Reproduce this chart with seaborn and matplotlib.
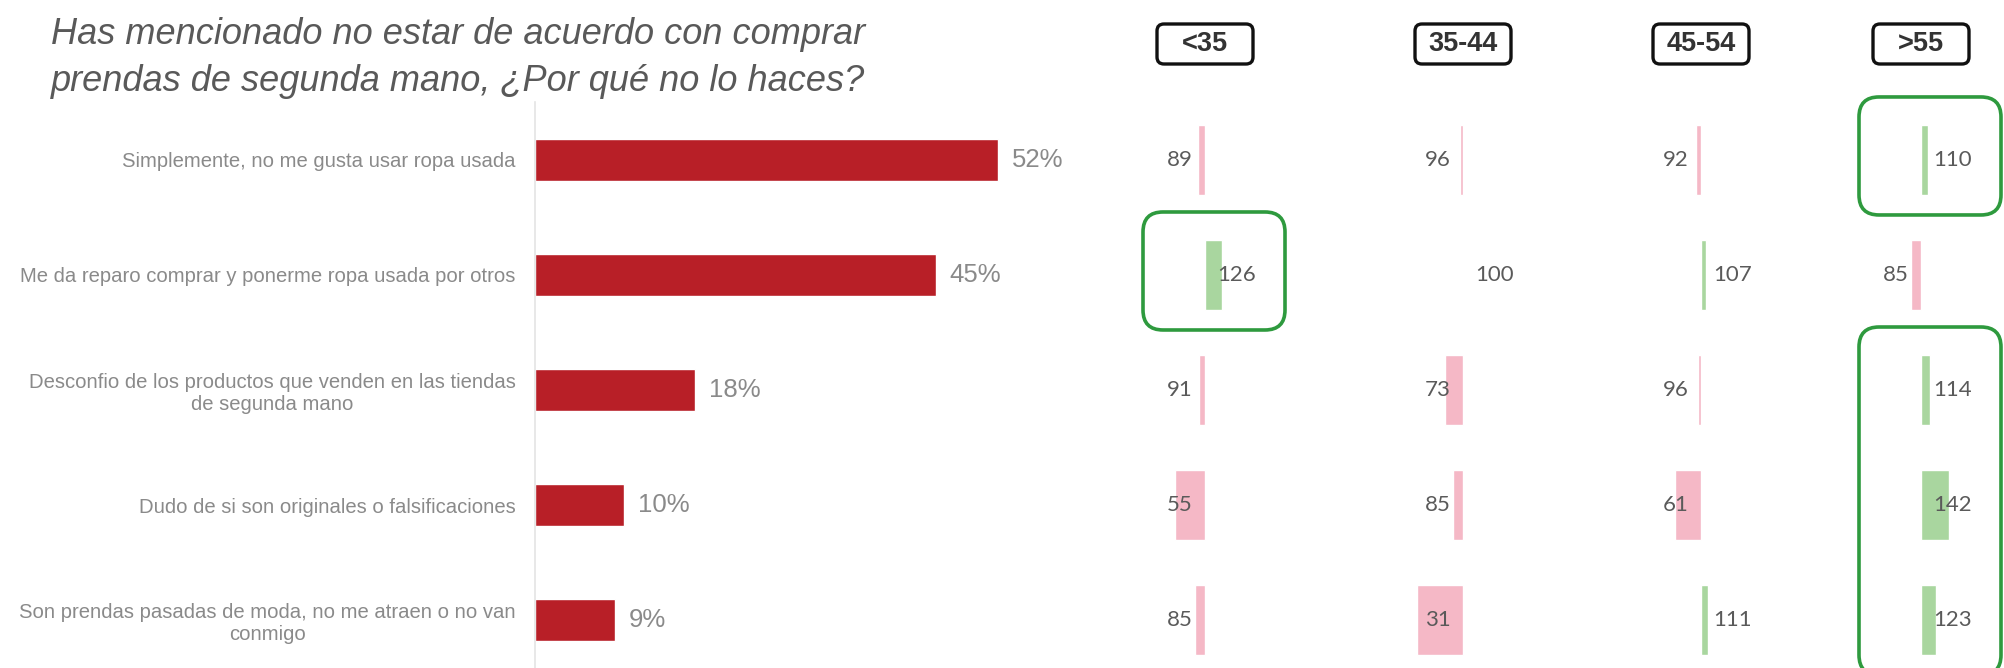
import matplotlib
matplotlib.use('Agg')
import matplotlib.pyplot as plt
from matplotlib.patches import FancyBboxPatch
import pandas as pd
import seaborn as sns

# datos de la encuesta
motivos = [
    'Simplemente, no me gusta usar ropa usada',
    'Me da reparo comprar y ponerme ropa usada por otros',
    'Desconfio de los productos que venden en las tiendas\nde segunda mano',
    'Dudo de si son originales o falsificaciones',
    'Son prendas pasadas de moda, no me atraen o no van\nconmigo',
]
porcentajes = [52, 45, 18, 10, 9]
edades = ['<35', '35-44', '45-54', '>55']
indice_menos35 = [89, 126, 91, 55, 85]
indice_35_44 = [96, 100, 73, 85, 31]
indice_45_54 = [92, 107, 96, 61, 111]
indice_mas55 = [110, 85, 114, 142, 123]
# (edad, primera fila, ultima fila) marcadas en verde
destacados = [('<35', 1, 1), ('>55', 0, 0), ('>55', 2, 4)]

indices = {'<35': indice_menos35, '35-44': indice_35_44,
           '45-54': indice_45_54, '>55': indice_mas55}

# colores
ROJO = '#B81F27'
ROSA = '#F5B8C6'
VERDE = '#A9D69F'
VERDE_MARCO = '#2E9A3E'
GRIS = '#8a8a8a'

sns.set_theme(style='white')
plt.rcParams['font.family'] = ['Liberation Sans', 'DejaVu Sans']

W, H, DPI = 2004, 668, 100
fig = plt.figure(figsize=(W / DPI, H / DPI), dpi=DPI)

# zona de graficos: desde y=102 px hasta abajo
alto = (H - 102) / H
ylim = (4.417, -0.504)

# ---- barras principales ----
df = pd.DataFrame({'motivo': motivos, 'pct': porcentajes})
ax = fig.add_axes([535 / W, 0, 565 / W, alto])
sns.barplot(data=df, x='pct', y='motivo', order=motivos, color=ROJO,
            width=0.37, saturation=1, ax=ax)
ax.set_xlim(0, 565 / 8.9)
ax.set_ylim(*ylim)
ax.set_xlabel('')
ax.set_ylabel('')
ax.set_xticks([])
ax.set_yticks(range(len(motivos)))
ax.set_yticklabels(motivos, fontsize=14.6, color=GRIS, multialignment='center')
ax.tick_params(axis='y', length=0, pad=14)
for s in ['top', 'right', 'bottom']:
    ax.spines[s].set_visible(False)
ax.spines['left'].set_color('#e4e4e4')
ax.spines['left'].set_linewidth(1.2)
for i, p in enumerate(porcentajes):
    ax.annotate(f'{p}%', xy=(p, i), xytext=(10, 0), textcoords='offset points',
                ha='left', va='center', fontsize=18.5, color=GRIS)

# ---- indices por edad ----
centros = [1205, 1463, 1701, 1921]
semiancho = 80
escala = 0.67  # px por punto de indice
ejes_edad = {}
for edad, c in zip(edades, centros):
    vals = indices[edad]
    d = pd.DataFrame({'motivo': motivos,
                      'dif': [v - 100 for v in vals],
                      'signo': ['mas' if v >= 100 else 'menos' for v in vals]})
    a = fig.add_axes([(c - semiancho) / W, 0, 2 * semiancho / W, alto])
    sns.barplot(data=d, x='dif', y='motivo', order=motivos, hue='signo',
                palette={'mas': VERDE, 'menos': ROSA}, dodge=False,
                width=0.61, saturation=1, legend=False, ax=a)
    a.set_xlim(-semiancho / escala, semiancho / escala)
    a.set_ylim(*ylim)
    a.axis('off')
    for i, v in enumerate(vals):
        lado = 1 if v >= 100 else -1
        a.annotate(str(v), xy=(0, i), xytext=(lado * 9, 0),
                   textcoords='offset points', ha='left' if lado > 0 else 'right',
                   va='center', fontsize=16, color='#5a5a5a',
                   family=['Lato', 'DejaVu Sans'], annotation_clip=False)
    ejes_edad[edad] = (a, c)

    # cabecera con marco redondeado
    yc = (H - 44) / DPI
    fig.add_artist(FancyBboxPatch((c / DPI - 0.48, yc - 0.2), 0.96, 0.40,
                                  boxstyle='round,pad=0,rounding_size=0.07',
                                  transform=fig.dpi_scale_trans, fill=False,
                                  ec='#111111', lw=2.4))
    fig.text(c / DPI, yc, edad, transform=fig.dpi_scale_trans, ha='center',
             va='center', fontsize=19.5, fontweight='bold', color='#333333')

# marcos verdes
for edad, f0, f1 in destacados:
    a, c = ejes_edad[edad]
    y_top = a.transData.transform((0, f0))[1] + 63
    y_bot = a.transData.transform((0, f1))[1] - 55
    x0, x1 = c - 62, c + 80
    fig.add_artist(FancyBboxPatch((x0 / DPI, y_bot / DPI), (x1 - x0) / DPI,
                                  (y_top - y_bot) / DPI,
                                  boxstyle='round,pad=0,rounding_size=0.2',
                                  transform=fig.dpi_scale_trans, fill=False,
                                  ec=VERDE_MARCO, lw=2.6))

# titulo
fig.text(51 / W, 1 - 17 / H,
         'Has mencionado no estar de acuerdo con comprar\n'
         'prendas de segunda mano, ¿Por qué no lo haces?',
         ha='left', va='top', fontsize=26, style='italic', color='#595959',
         linespacing=1.45)

fig.savefig('out.png', dpi=DPI)
